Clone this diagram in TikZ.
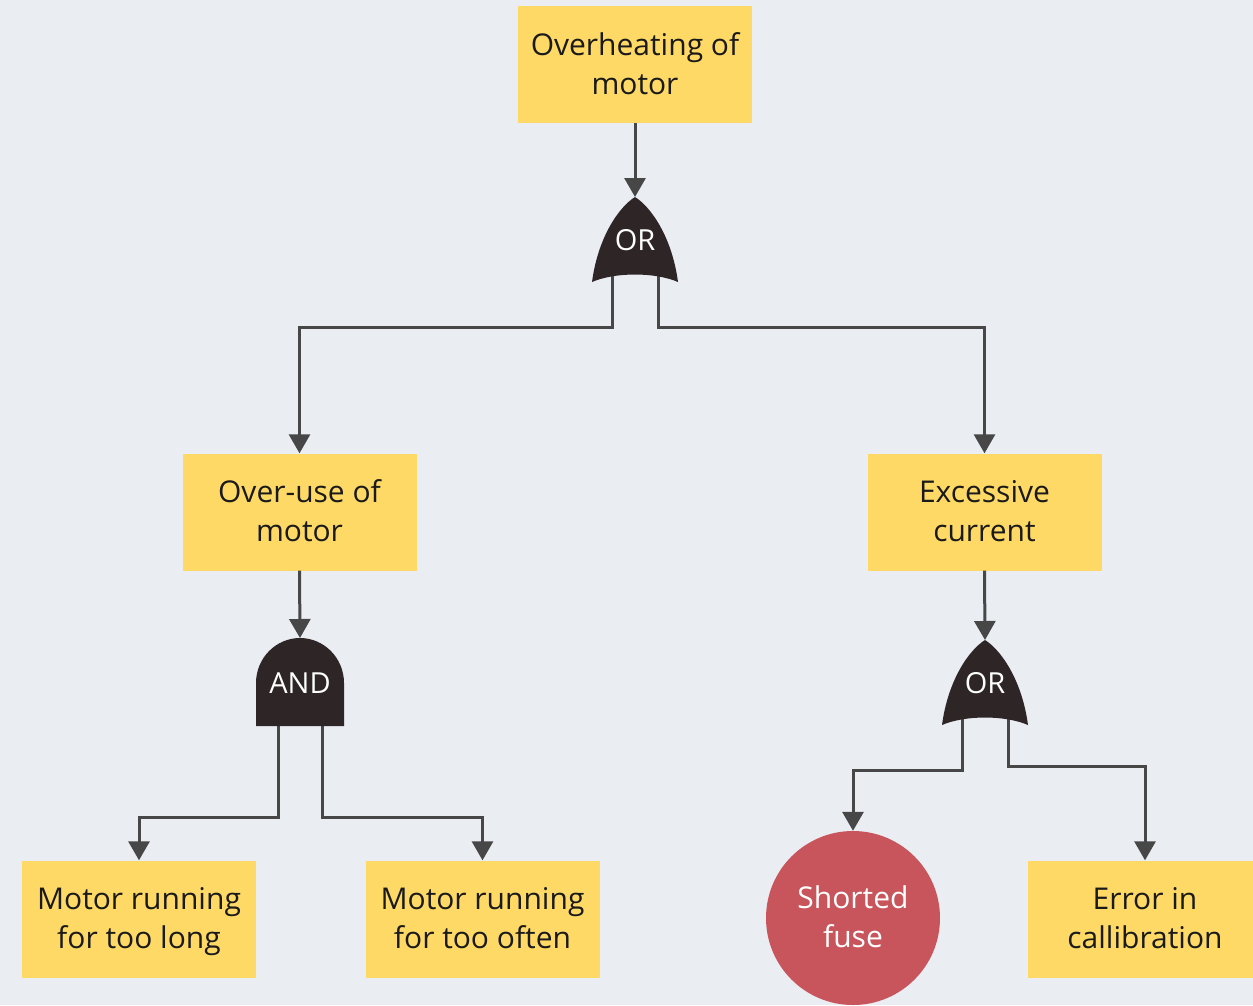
\documentclass[tikz,border=0pt]{standalone}
\usepackage{fontspec}
\setmainfont{Open Sans}
\usetikzlibrary{arrows.meta}
\definecolor{bg}{HTML}{EAEDF2}
\definecolor{boxc}{HTML}{FFD966}
\definecolor{gatec}{HTML}{2E2526}
\definecolor{redc}{HTML}{C8555B}
\definecolor{linec}{HTML}{474747}
\definecolor{txtc}{HTML}{1A1A1A}
\newcommand\topstrut{\rule{0pt}{32.5pt}}
\newcommand\botstrut{\rule[-11.7pt]{0pt}{11.7pt}}
\tikzset{
  evbox/.style={fill=boxc, draw=none, minimum width=234pt, minimum height=117pt, inner sep=0pt,
    align=center, text=txtc, font=\fontsize{30}{39}\selectfont},
  basic/.style={circle, fill=redc, draw=none, minimum size=174pt, inner sep=0pt,
    align=center, text=white, font=\fontsize{30}{39}\selectfont},
  gatetxt/.style={text=white, inner sep=0pt, font=\fontsize{29}{30}\selectfont},
  conn/.style={draw=linec, line width=3pt, -{Triangle[width=21pt,length=19pt]}},
  orgate/.pic={\fill[gatec] (-43,85) .. controls (-37,40) and (-16,10) .. (0,0)
      .. controls (16,10) and (37,40) .. (43,85)
      .. controls (20,75) and (-20,75) .. (-43,85) -- cycle;},
  andgate/.pic={\fill[gatec] (-44,88) -- (-44,45) .. controls (-44,20) and (-24,0) .. (0,0)
      .. controls (24,0) and (44,20) .. (44,45) -- (44,88) -- cycle;}
}
\begin{document}
\begin{tikzpicture}[x=1pt,y=-1pt]
\clip (0,0) rectangle (1253,1005);
\fill[bg] (0,0) rectangle (1253,1005);
% events
\node[evbox] (top) at (635,64.5) {\topstrut Overheating of\\motor\botstrut};
\node[evbox] (overuse) at (299.5,512) {\topstrut Over-use of\\motor\botstrut};
\node[evbox] (excess) at (984.5,512) {\topstrut Excessive\\current\botstrut};
\node[evbox] (long) at (139,919) {\topstrut Motor running\\for too long\botstrut};
\node[evbox] (often) at (482.5,919) {\topstrut Motor running\\for too often\botstrut};
\node[evbox] (calib) at (1145,919) {\topstrut Error in\\callibration\botstrut};
\node[basic] (fuse) at (853,918) {\topstrut Shorted\\fuse\botstrut};
% gate legs
\coordinate (g1l) at (612,270);
\coordinate (g1r) at (658,270);
\coordinate (g2l) at (278,715);
\coordinate (g2r) at (322,715);
\coordinate (g3l) at (962,713);
\coordinate (g3r) at (1008,713);
\draw[conn] (g1l) -- (612,327) -| (overuse.north);
\draw[conn] (g1r) -- (658,327) -| (excess.north);
\draw[conn] (g2l) -- (278,817) -| (long.north);
\draw[conn] (g2r) -- (322,817) -| (often.north);
\draw[conn] (g3l) -- (962,770) -| (fuse.north);
\draw[conn] (g3r) -- (1008,766) -| (calib.north);
% gates
\pic at (635,197) {orgate};
\node[gatetxt] (g1) at (635,240) {OR};
\pic at (300,638) {andgate};
\node[gatetxt] (g2) at (300,683) {AND};
\pic at (985,640) {orgate};
\node[gatetxt] (g3) at (985,683) {OR};
\coordinate (g1top) at (635,197);
\coordinate (g2top) at (300,638);
\coordinate (g3top) at (985,640);
\draw[conn] (top.south) -- (g1top);
\draw[conn] (overuse.south) -- (g2top);
\draw[conn] (excess.south) -- (g3top);
\end{tikzpicture}
\end{document}
